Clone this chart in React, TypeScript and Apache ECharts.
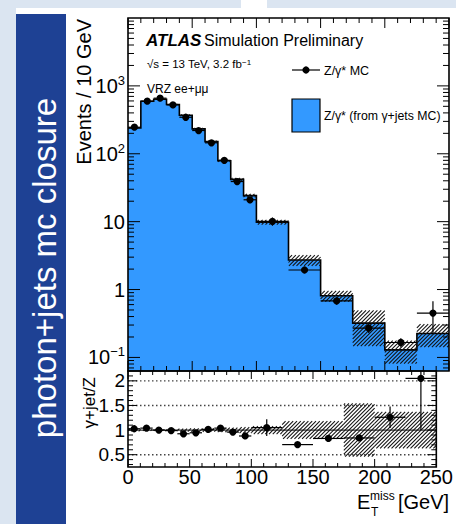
import React, { useEffect, useRef } from 'react';
import * as echarts from 'echarts';

// ---- data ----
const binLo = [0, 10, 20, 30, 40, 50, 60, 70, 80, 90, 100, 125, 150, 175, 200, 225];
const binHi = [10, 20, 30, 40, 50, 60, 70, 80, 90, 100, 125, 150, 175, 200, 225, 250];
// Z/gamma* (from gamma+jets MC), events / 10 GeV
const gjetHist = [240, 595, 637, 532, 370, 233, 151, 79, 42, 24.2, 9.8, 2.72, 0.81, 0.32, 0.129, 0.225];
const gjetRelErr = [0.025, 0.015, 0.015, 0.02, 0.03, 0.035, 0.035, 0.04, 0.05, 0.06, 0.08, 0.18, 0.18, 0.54, 0.37, 0.37];
// Z/gamma* MC points
const zmcValues = [246, 595, 659, 525, 345, 220, 145, 80, 39, 21, 10.1, 1.94, 0.68, 0.27, 0.166, 0.45];
const zmcRelErr = [0.03, 0.02, 0.02, 0.02, 0.03, 0.03, 0.04, 0.05, 0.07, 0.09, 0.14, 0.1, 0.12, 0.15, 0.15, 0.5];
// ratio panel
const ratioValues = [1.027, 1.04, 1.0, 0.99, 0.925, 0.945, 1.015, 1.04, 0.96, 0.88, 1.05, 0.705, 0.83, 0.84, 1.26, 2.05];
const ratioErr = [0.02, 0.02, 0.02, 0.02, 0.03, 0.03, 0.03, 0.04, 0.05, 0.05, 0.17, 0.03, 0.06, 0.06, 0.22, 1.05];
// tick labels
const xMajorTicks = [0, 50, 100, 150, 200, 250];
const mainDecades = [-1, 0, 1, 2, 3];
const mainDecadeBase = ['10', '1', '10', '10', '10'];
const mainDecadeSup = ['\u22121', '', '', '2', '3'];
const ratioMajorTicks = [0.5, 1, 1.5, 2];
const ratioMajorLabels = ['0.5', '1', '1.5', '2'];
const ratioGuideLines = [0.5, 1.5, 2];

const LOG_MIN = -1.2;
const LOG_MAX = 4;
const R_MIN = 0.25;
const R_MAX = 2.2;
const X_MIN = 0;
const X_MAX = 250;
const BLUE = '#3399ff';
const HATCH = '#111111';
const FONT = '"Liberation Sans", Arial, Helvetica, sans-serif';

function near(a: number, b: number) {
  return Math.abs(a - b) < 1e-6;
}

function hatchLines(x0: number, y0: number, x1: number, y1: number, step: number) {
  const out: any[] = [];
  const style = { stroke: HATCH, lineWidth: 1.05 };
  const cStart = Math.ceil((x0 + y0) / step) * step;
  for (let c = cStart; c <= x1 + y1; c += step) {
    const xa = Math.max(x0, c - y1);
    const xb = Math.min(x1, c - y0);
    if (xb - xa > 0.3) out.push({ type: 'line', shape: { x1: xa, y1: c - xa, x2: xb, y2: c - xb }, style });
  }
  return out;
}

function makeFrame(
  yRef: number,
  yMajor: number[],
  yMinor: number[],
  xMajLen: number,
  xMinLen: number,
  yMajLen: number,
  yMinLen: number
) {
  return (params: any, api: any) => {
    const cs = params.coordSys;
    const left = cs.x;
    const top = cs.y;
    const right = cs.x + cs.width;
    const bottom = cs.y + cs.height;
    const st = { stroke: '#000', lineWidth: 1 };
    const ch: any[] = [];
    const add = (x1: number, y1: number, x2: number, y2: number) =>
      ch.push({ type: 'line', shape: { x1, y1, x2, y2 }, style: st });
    for (let v = X_MIN; v <= X_MAX; v += 10) {
      const px = api.coord([v, yRef])[0];
      const len = xMajorTicks.indexOf(v) >= 0 ? xMajLen : xMinLen;
      add(px, bottom, px, bottom - len);
      add(px, top, px, top + len);
    }
    yMajor.forEach((v) => {
      const py = api.coord([0, v])[1];
      add(left, py, left + yMajLen, py);
      add(right, py, right - yMajLen, py);
    });
    yMinor.forEach((v) => {
      const py = api.coord([0, v])[1];
      add(left, py, left + yMinLen, py);
      add(right, py, right - yMinLen, py);
    });
    ch.push({
      type: 'rect',
      shape: { x: left, y: top, width: cs.width, height: cs.height },
      style: { fill: 'none', stroke: '#000', lineWidth: 1.6 },
    });
    return { type: 'group', children: ch };
  };
}

function buildOption() {
  const mainMinor: number[] = [];
  for (let k = -2; k <= 3; k++) {
    for (let m = 2; m <= 9; m++) {
      const lv = k + Math.log10(m);
      if (lv > LOG_MIN && lv < LOG_MAX) mainMinor.push(lv);
    }
  }
  const ratioMinor: number[] = [];
  for (let i = 3; i <= 21; i++) {
    const v = i / 10;
    if (!ratioMajorTicks.some((t) => near(t, v))) ratioMinor.push(v);
  }

  const stepPoints = (api: any) => {
    const pts: number[][] = [];
    binLo.forEach((lo, i) => {
      const y = Math.log10(gjetHist[i]);
      pts.push(api.coord([lo, y]));
      pts.push(api.coord([binHi[i], y]));
    });
    return pts;
  };

  const series: any[] = [
    // blue histogram fill
    {
      type: 'custom',
      name: 'Z/\u03b3* (from \u03b3+jets MC)',
      xAxisIndex: 0,
      yAxisIndex: 0,
      z: 1,
      silent: true,
      clip: true,
      data: [[125, 0]],
      renderItem: (params: any, api: any) => {
        const pts = stepPoints(api);
        const poly = [api.coord([X_MIN, LOG_MIN]), ...pts, api.coord([X_MAX, LOG_MIN])];
        return { type: 'polygon', shape: { points: poly }, style: { fill: BLUE } };
      },
    },
    // histogram outline
    {
      type: 'custom',
      xAxisIndex: 0,
      yAxisIndex: 0,
      z: 2,
      silent: true,
      clip: true,
      data: [[125, 0]],
      renderItem: (params: any, api: any) => {
        const pts = stepPoints(api);
        return { type: 'polyline', shape: { points: pts }, style: { stroke: '#000', lineWidth: 1.6, fill: 'none' } };
      },
    },
    // hatched uncertainty band, main
    {
      type: 'custom',
      xAxisIndex: 0,
      yAxisIndex: 0,
      z: 3,
      silent: true,
      clip: true,
      data: binLo.map((lo, i) => [lo, binHi[i], gjetHist[i], gjetRelErr[i]]),
      renderItem: (params: any, api: any) => {
        const lo = api.value(0);
        const hi = api.value(1);
        const v = api.value(2);
        const e = api.value(3);
        const a = api.coord([lo, Math.log10(v * (1 + e))]);
        const b = api.coord([hi, Math.log10(Math.max(v * (1 - e), 1e-3))]);
        return { type: 'group', children: hatchLines(a[0], a[1], b[0], b[1], 3.8) };
      },
    },
    // Z/gamma* MC points
    {
      type: 'custom',
      name: 'Z/\u03b3* MC',
      xAxisIndex: 0,
      yAxisIndex: 0,
      z: 4,
      silent: true,
      clip: true,
      data: binLo.map((lo, i) => [lo, binHi[i], zmcValues[i], zmcRelErr[i]]),
      renderItem: (params: any, api: any) => {
        const lo = api.value(0);
        const hi = api.value(1);
        const v = api.value(2);
        const e = api.value(3);
        const mid = (lo + hi) / 2;
        const ly = Math.log10(v);
        const c = api.coord([mid, ly]);
        const l = api.coord([lo, ly]);
        const r = api.coord([hi, ly]);
        const up = api.coord([mid, Math.log10(v * (1 + e))]);
        const dn = api.coord([mid, Math.log10(v * (1 - e))]);
        const st = { stroke: '#000', lineWidth: 1.2 };
        return {
          type: 'group',
          children: [
            { type: 'line', shape: { x1: l[0], y1: l[1], x2: r[0], y2: r[1] }, style: st },
            { type: 'line', shape: { x1: up[0], y1: up[1], x2: dn[0], y2: dn[1] }, style: st },
            { type: 'circle', shape: { cx: c[0], cy: c[1], r: 3.6 }, style: { fill: '#000' } },
          ],
        };
      },
    },
    // main frame + ticks
    {
      type: 'custom',
      xAxisIndex: 0,
      yAxisIndex: 0,
      z: 6,
      silent: true,
      data: [[125, 1]],
      renderItem: makeFrame(1, mainDecades, mainMinor, 10, 5, 12, 6),
    },
    // ratio guide lines
    {
      type: 'custom',
      xAxisIndex: 1,
      yAxisIndex: 1,
      z: 2,
      silent: true,
      data: [[125, 1]],
      renderItem: (params: any, api: any) => {
        const ch: any[] = [];
        ratioGuideLines.forEach((g) => {
          const a = api.coord([X_MIN, g]);
          const b = api.coord([X_MAX, g]);
          ch.push({
            type: 'line',
            shape: { x1: a[0], y1: a[1], x2: b[0], y2: b[1] },
            style: { stroke: '#444', lineWidth: 1.4, lineDash: [1.5, 2.5] },
          });
        });
        const a1 = api.coord([X_MIN, 1]);
        const b1 = api.coord([X_MAX, 1]);
        ch.push({ type: 'line', shape: { x1: a1[0], y1: a1[1], x2: b1[0], y2: b1[1] }, style: { stroke: '#333', lineWidth: 1.2 } });
        return { type: 'group', children: ch };
      },
    },
    // ratio hatch band
    {
      type: 'custom',
      xAxisIndex: 1,
      yAxisIndex: 1,
      z: 3,
      silent: true,
      clip: true,
      data: binLo.map((lo, i) => [lo, binHi[i], 1 - gjetRelErr[i], 1 + gjetRelErr[i]]),
      renderItem: (params: any, api: any) => {
        const a = api.coord([api.value(0), api.value(3)]);
        const b = api.coord([api.value(1), api.value(2)]);
        return { type: 'group', children: hatchLines(a[0], a[1], b[0], b[1], 3.8) };
      },
    },
    // ratio points
    {
      type: 'custom',
      xAxisIndex: 1,
      yAxisIndex: 1,
      z: 4,
      silent: true,
      clip: true,
      data: binLo.map((lo, i) => [lo, binHi[i], ratioValues[i], ratioErr[i]]),
      renderItem: (params: any, api: any) => {
        const lo = api.value(0);
        const hi = api.value(1);
        const v = api.value(2);
        const e = api.value(3);
        const mid = (lo + hi) / 2;
        const c = api.coord([mid, v]);
        const l = api.coord([lo, v]);
        const r = api.coord([hi, v]);
        const up = api.coord([mid, v + e]);
        const dn = api.coord([mid, v - e]);
        const st = { stroke: '#000', lineWidth: 1.2 };
        return {
          type: 'group',
          children: [
            { type: 'line', shape: { x1: l[0], y1: l[1], x2: r[0], y2: r[1] }, style: st },
            { type: 'line', shape: { x1: up[0], y1: up[1], x2: dn[0], y2: dn[1] }, style: st },
            { type: 'circle', shape: { cx: c[0], cy: c[1], r: 3.6 }, style: { fill: '#000' } },
          ],
        };
      },
    },
    // ratio frame + ticks
    {
      type: 'custom',
      xAxisIndex: 1,
      yAxisIndex: 1,
      z: 6,
      silent: true,
      data: [[125, 1]],
      renderItem: makeFrame(1, ratioMajorTicks, ratioMinor, 8, 4, 9, 5),
    },
  ];

  const graphic: any[] = [
    // page decoration
    { type: 'rect', shape: { x: 0, y: 0, width: 241, height: 8 }, style: { fill: '#dbe5f1' }, z: -10 },
    { type: 'rect', shape: { x: 267, y: 0, width: 189, height: 8 }, style: { fill: '#dbe5f1' }, z: -10 },
    { type: 'rect', shape: { x: 0, y: 0, width: 16, height: 524 }, style: { fill: '#dbe5f1' }, z: -10 },
    { type: 'rect', shape: { x: 16, y: 14, width: 50, height: 510 }, style: { fill: '#1e4194' }, z: -10 },
    {
      type: 'text',
      x: 44,
      y: 268,
      rotation: Math.PI / 2,
      style: {
        text: 'photon+jets mc closure',
        fill: '#ffffff',
        fontSize: 33,
        fontFamily: FONT,
        align: 'center',
        verticalAlign: 'middle',
      },
    },
    // axis titles
    {
      type: 'text',
      x: 84,
      y: 19,
      rotation: Math.PI / 2,
      style: { text: 'Events / 10 GeV', fill: '#000', fontSize: 20, fontFamily: FONT, align: 'right', verticalAlign: 'middle' },
    },
    {
      type: 'text',
      x: 89,
      y: 377,
      rotation: Math.PI / 2,
      style: { text: '\u03b3+jet/Z', fill: '#000', fontSize: 17, fontFamily: FONT, align: 'right', verticalAlign: 'middle' },
    },
    { type: 'text', x: 357, y: 502, style: { text: 'E', fill: '#000', fontSize: 20, fontFamily: FONT, verticalAlign: 'middle' } },
    { type: 'text', x: 370, y: 496, style: { text: 'miss', fill: '#000', fontSize: 12, fontFamily: FONT, verticalAlign: 'middle' } },
    { type: 'text', x: 371, y: 512, style: { text: 'T', fill: '#000', fontSize: 12, fontFamily: FONT, verticalAlign: 'middle' } },
    { type: 'text', x: 398, y: 502, style: { text: '[GeV]', fill: '#000', fontSize: 20, fontFamily: FONT, verticalAlign: 'middle' } },
    // ATLAS labels
    {
      type: 'text',
      x: 146,
      y: 40,
      style: { text: 'ATLAS', fill: '#000', fontSize: 17, fontWeight: 'bold', fontStyle: 'italic', fontFamily: FONT, verticalAlign: 'middle' },
    },
    { type: 'text', x: 204, y: 40, style: { text: 'Simulation Preliminary', fill: '#000', fontSize: 16, fontFamily: FONT, verticalAlign: 'middle' } },
    {
      type: 'text',
      x: 147,
      y: 64,
      style: {
        text: '\u221as = 13 TeV, 3.2 fb{s|\u22121}',
        fill: '#000',
        fontSize: 11.5,
        fontFamily: FONT,
        verticalAlign: 'middle',
        rich: { s: { fontSize: 8, fontFamily: FONT, verticalAlign: 'top', fill: '#000' } },
      },
    },
    { type: 'text', x: 147, y: 89, style: { text: 'VRZ ee+\u03bc\u03bc', fill: '#000', fontSize: 12, fontFamily: FONT, verticalAlign: 'middle' } },
    // legend
    { type: 'line', shape: { x1: 292, y1: 70, x2: 320, y2: 70 }, style: { stroke: '#000', lineWidth: 1.2 } },
    { type: 'circle', shape: { cx: 306, cy: 70, r: 3.6 }, style: { fill: '#000' } },
    { type: 'text', x: 324, y: 71, style: { text: 'Z/\u03b3* MC', fill: '#000', fontSize: 12.5, fontFamily: FONT, verticalAlign: 'middle' } },
    { type: 'rect', shape: { x: 292, y: 99, width: 28, height: 33 }, style: { fill: BLUE, stroke: '#000', lineWidth: 1.2 } },
    {
      type: 'text',
      x: 324,
      y: 116,
      style: { text: 'Z/\u03b3* (from \u03b3+jets MC)', fill: '#000', fontSize: 12.3, fontFamily: FONT, verticalAlign: 'middle' },
    },
  ];

  return {
    animation: false,
    backgroundColor: '#ffffff',
    grid: [
      { left: 128, top: 18, width: 321, height: 353 },
      { left: 128, top: 371, width: 321, height: 96 },
    ],
    xAxis: [
      {
        gridIndex: 0,
        type: 'value',
        min: X_MIN,
        max: X_MAX,
        interval: 50,
        axisLine: { show: false },
        axisTick: { show: false },
        axisLabel: { show: false },
        splitLine: { show: false },
      },
      {
        gridIndex: 1,
        type: 'value',
        min: X_MIN,
        max: X_MAX,
        interval: 50,
        axisLine: { show: false },
        axisTick: { show: false },
        splitLine: { show: false },
        axisLabel: {
          show: true,
          fontSize: 20,
          color: '#000',
          fontFamily: FONT,
          margin: 0,
          formatter: (v: number) => {
            const i = xMajorTicks.findIndex((t) => near(t, v));
            return i >= 0 ? String(xMajorTicks[i]) : '';
          },
        },
      },
    ],
    yAxis: [
      {
        gridIndex: 0,
        type: 'value',
        min: LOG_MIN,
        max: LOG_MAX,
        interval: 0.2,
        axisLine: { show: false },
        axisTick: { show: false },
        splitLine: { show: false },
        axisLabel: {
          margin: 3,
          color: '#000',
          fontFamily: FONT,
          fontSize: 20,
          formatter: (v: number) => {
            const i = mainDecades.findIndex((d) => near(d, v));
            if (i < 0) return '';
            const sup = mainDecadeSup[i];
            return sup ? `{b|${mainDecadeBase[i]}}{s|${sup}}` : `{b|${mainDecadeBase[i]}}`;
          },
          rich: {
            b: { fontSize: 20, fontFamily: FONT, color: '#000', lineHeight: 24 },
            s: { fontSize: 13, fontFamily: FONT, color: '#000', verticalAlign: 'top', lineHeight: 13 },
          },
        },
      },
      {
        gridIndex: 1,
        type: 'value',
        min: R_MIN,
        max: R_MAX,
        interval: 0.25,
        axisLine: { show: false },
        axisTick: { show: false },
        splitLine: { show: false },
        axisLabel: {
          margin: 3,
          color: '#000',
          fontFamily: FONT,
          fontSize: 19,
          formatter: (v: number) => {
            const i = ratioMajorTicks.findIndex((t) => near(t, v));
            return i >= 0 ? ratioMajorLabels[i] : '';
          },
        },
      },
    ],
    series,
    graphic,
  };
}

export default function App() {
  const ref = useRef<HTMLDivElement>(null);
  useEffect(() => {
    if (!ref.current) return;
    const chart = echarts.init(ref.current, null, { renderer: 'svg' });
    chart.setOption(buildOption() as any);
    return () => {
      chart.dispose();
    };
  }, []);
  return (
    <div
      ref={ref}
      style={{ position: 'fixed', left: 0, top: 0, width: 456, height: 524, background: '#ffffff' }}
    />
  );
}
